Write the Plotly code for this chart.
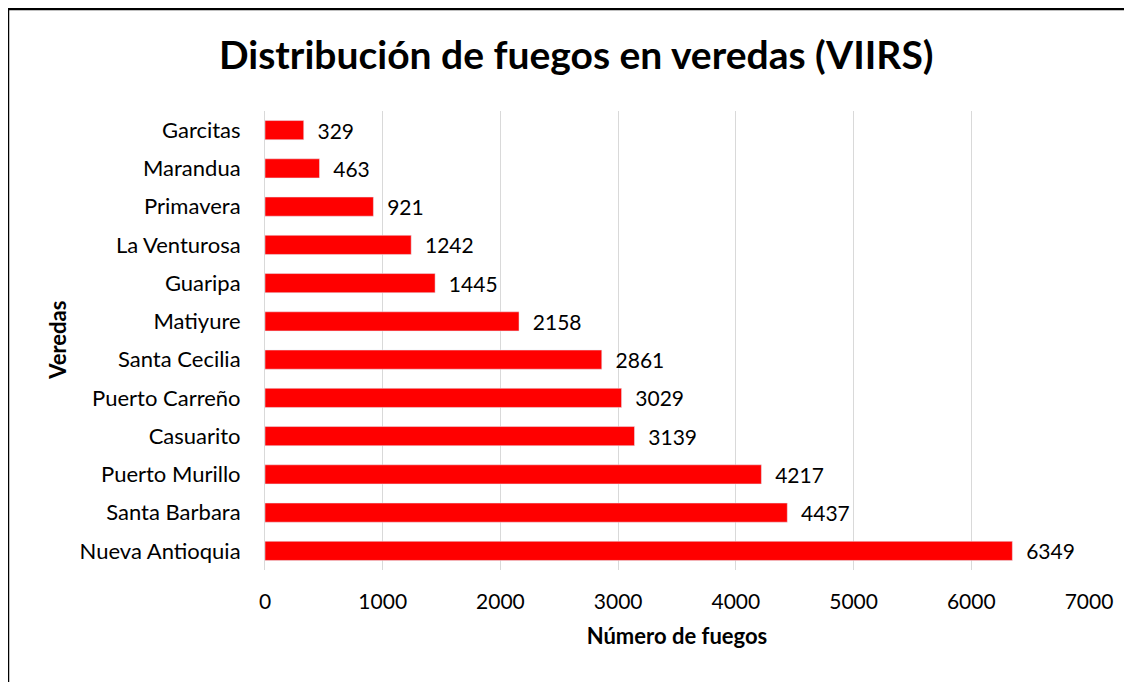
import plotly.graph_objects as go

# veredas y numero de fuegos VIIRS
veredas = ["Nueva Antioquia", "Santa Barbara", "Puerto Murillo", "Casuarito",
           "Puerto Carreño", "Santa Cecilia", "Matiyure", "Guaripa",
           "La Venturosa", "Primavera", "Marandua", "Garcitas"]
fuegos = [6349, 4437, 4217, 3139, 3029, 2861, 2158, 1445, 1242, 921, 463, 329]
x_ticks = [0, 1000, 2000, 3000, 4000, 5000, 6000, 7000]

font_fam = "Lato, 'Open Sans', sans-serif"

fig = go.Figure(go.Bar(
    x=fuegos,
    y=veredas,
    orientation="h",
    marker=dict(color="#ff0000"),
    width=0.5,
    text=fuegos,
    texttemplate="  %{text}",
    textposition="outside",
    constraintext="none",
    textfont=dict(size=21, color="#000000", family=font_fam),
    cliponaxis=False,
))

# the page body has an 8px margin, so the figure is shifted up/left by 8px
# border of the chart box: only left and top edges are visible in the picture
border = dict(color="#000000", width=2.5)
fig.update_layout(
    width=1132,
    height=682,
    paper_bgcolor="white",
    plot_bgcolor="white",
    margin=dict(l=257, r=51, t=103, b=120),
    showlegend=False,
    title=dict(
        text="<b>Distribución de fuegos en veredas (VIIRS)</b>",
        x=0.502, xanchor="center", y=0.931, yanchor="middle",
        font=dict(size=39, color="#000000", family=font_fam),
    ),
    font=dict(family=font_fam, color="#000000"),
    shapes=[
        dict(type="line", xref="paper", yref="paper",
             x0=-0.3119, x1=-0.3119, y0=-0.5, y1=1.2222, line=border),
        dict(type="line", xref="paper", yref="paper",
             x0=-0.3119, x1=1.5, y0=1.2222, y1=1.2222, line=border),
    ],
    annotations=[dict(text="<b>Veredas</b>", textangle=-90,
                      xref="paper", yref="paper", x=-0.252, y=0.5,
                      xanchor="center", yanchor="middle", showarrow=False,
                      font=dict(size=22, family=font_fam, color="#000000"))],
)

fig.update_xaxes(
    range=[0, 7000],
    tickvals=x_ticks,
    tickfont=dict(size=21, family=font_fam),
    showgrid=True,
    gridcolor="#d9d9d9",
    gridwidth=1,
    zeroline=False,
    showline=False,
    ticks="",
    ticklabelstandoff=17,
    automargin=False,
    title=dict(text="<b>Número de fuegos</b>", font=dict(size=22, family=font_fam), standoff=16),
)

fig.update_yaxes(
    categoryorder="array",
    categoryarray=veredas,
    range=[-0.5, 11.5],
    tickfont=dict(size=22, family=font_fam),
    showline=True,
    linecolor="#d9d9d9",
    linewidth=1,
    ticks="",
    ticklabelstandoff=19,
    automargin=False,
)

fig.write_html("out.html")
